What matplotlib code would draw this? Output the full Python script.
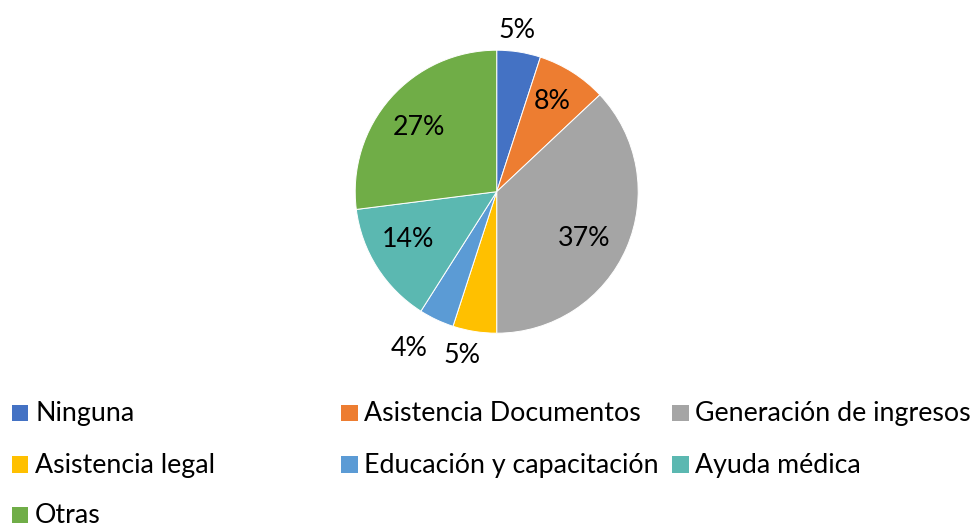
import numpy as np
import matplotlib.pyplot as plt
from matplotlib.patches import Rectangle

categories = ["Ninguna", "Asistencia Documentos", "Generación de ingresos",
              "Asistencia legal", "Educación y capacitación", "Ayuda médica",
              "Otras"]
values = [5, 8, 37, 5, 4, 14, 27]
pct_labels = ["5%", "8%", "37%", "5%", "4%", "14%", "27%"]
colors = ["#4472C4", "#ED7D31", "#A5A5A5", "#FFC000", "#5B9BD5", "#5BB8B1",
          "#70AD47"]

# label distance from centre (in radii) and angle tweak (deg) per slice
label_dist = [1.15, 0.75, 0.70, 1.18, 1.27, 0.71, 0.71]
label_dang = [2, 1, -5, -3, -4, -4, 2]

plt.rcParams["font.family"] = ["Lato", "DejaVu Sans"]

W, H = 979, 527
fig = plt.figure(figsize=(W / 100, H / 100), dpi=100)

cx, cy, R = 496.7, 191.7, 141.5
ax = fig.add_axes([(cx - R) / W, 1 - (cy + R) / H, 2 * R / W, 2 * R / H])

wedges, _ = ax.pie(values, colors=colors, startangle=90, counterclock=False,
                   radius=1, wedgeprops=dict(edgecolor="white", linewidth=0.7))
ax.set_xlim(-1, 1)
ax.set_ylim(-1, 1)
ax.set_aspect("auto")
ax.axis("off")

for w, lab, d, da in zip(wedges, pct_labels, label_dist, label_dang):
    ang = np.deg2rad((w.theta1 + w.theta2) / 2 + da)
    ax.text(d * np.cos(ang), d * np.sin(ang), lab, ha="center", va="center",
            fontsize=19.3, color="#000000", clip_on=False)

# legend, 3 columns
col_x = [12, 341, 672]
row_base = [421, 472.5, 523]
box = 16.5
for i, (name, c) in enumerate(zip(categories, colors)):
    x = col_x[i % 3]
    yb = row_base[i // 3]
    fig.patches.append(Rectangle((x / W, 1 - yb / H), box / W, box / H,
                                 transform=fig.transFigure, facecolor=c,
                                 edgecolor="none"))
    fig.text((x + 23) / W, 1 - yb / H, name, ha="left", va="baseline",
             fontsize=19.3, color="#000000")

fig.savefig("out.png", dpi=100)
